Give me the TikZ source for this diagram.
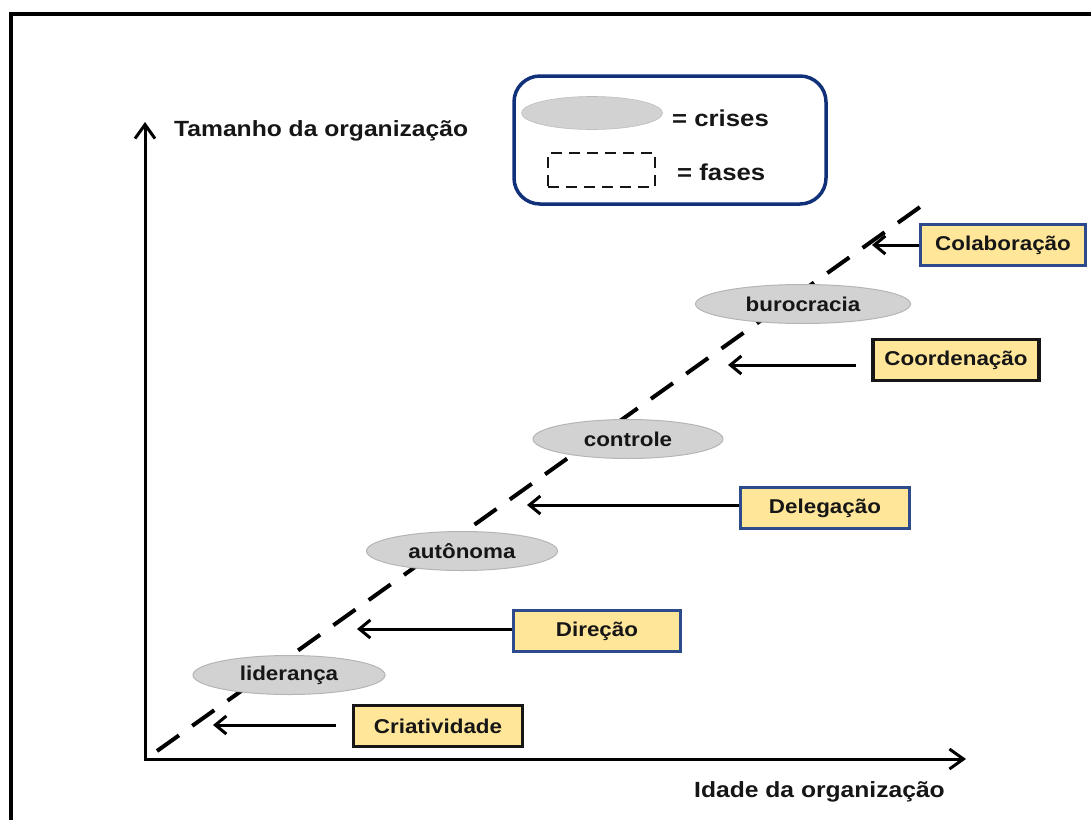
\documentclass[tikz,border=0pt]{standalone}
\usepackage{fontspec}
\setmainfont[FakeStretch=1.12]{Liberation Sans}
\usetikzlibrary{arrows.meta,shapes.geometric}

\definecolor{ink}{HTML}{161616}
\definecolor{navy}{HTML}{10307A}
\definecolor{boxblue}{HTML}{2C4A8C}
\definecolor{phasefill}{HTML}{FFE699}
\definecolor{crisisfill}{HTML}{D2D2D2}
\definecolor{crisisedge}{HTML}{B5B5B5}

\begin{document}
\begin{tikzpicture}[x=1pt,y=-1pt,
  crisis/.style={ellipse, fill=crisisfill, draw=crisisedge, line width=1pt,
    minimum width=#1, minimum height=39pt, inner sep=0pt,
    font=\fontsize{20}{24}\selectfont\bfseries, text=ink},
  phase/.style={rectangle, fill=phasefill, draw=#1, line width=3.5pt,
    minimum height=41pt, inner sep=0pt,
    font=\fontsize{20}{24}\selectfont\bfseries, text=ink},
  pointer/.style={line width=3pt, {Straight Barb[length=11pt,width=18pt]}-},
  axis/.style={line width=3pt, line join=miter,
    {Straight Barb[length=14pt,width=20pt]}-{Straight Barb[length=14pt,width=20pt]}},
  axislabel/.style={anchor=west, inner sep=0pt, font=\fontsize{22}{26}\selectfont\bfseries, text=ink},
  legendtext/.style={anchor=west, inner sep=0pt, font=\fontsize{23}{27}\selectfont\bfseries, text=ink}
]
\useasboundingbox (0,0) rectangle (1091,819);
\clip (0,0) rectangle (1091,819);
\fill[white] (0,0) rectangle (1091,819);

% outer frame (runs off the page on the right and at the bottom)
\draw[line width=4pt, line join=miter] (11,840) -- (11,14) -- (1110,14);

% axes
\coordinate (origin) at (145,759);
\coordinate (ytip) at (145,122);
\coordinate (xtip) at (966,759);
\draw[axis] (ytip) -- (origin) -- (xtip);
\node[axislabel] (ylabel) at (174,131) {Tamanho da organização};
\node[axislabel] (xlabel) at (694,792) {Idade da organização};

% legend
\node[draw=navy, line width=3.5pt, rounded corners=26pt, minimum width=312pt,
  minimum height=128pt, inner sep=0pt] (legend) at (670,140) {};
\node[ellipse, fill=crisisfill, draw=crisisfill!90!black, line width=0.6pt,
  minimum width=141pt, minimum height=33pt, inner sep=0pt] (legcrisis) at (592,113) {};
\node[legendtext] (legcrisistext) at (672,118) {= crises};
\node[draw=ink, line width=2pt, dash pattern=on 11pt off 7pt, minimum width=107pt,
  minimum height=34pt, inner sep=0pt] (legphase) at (601,170) {};
\node[legendtext] (legphasetext) at (677,172) {= fases};

% growth line through the phases: a dash at each end
\coordinate (gstart) at (157,751);
\coordinate (gend) at (920,207);
\draw[line width=4pt, dash pattern=on 27pt off 16.33pt] (gstart) -- (gend);

% crises
\node[crisis=192pt] (lid) at (289,675) {lideran\c{c}a};
\node[crisis=191pt] (aut) at (462,551) {autônoma};
\node[crisis=190pt] (con) at (628,439) {controle};
\node[crisis=215pt] (bur) at (803,304) {burocracia};

% phases
\node[phase=ink, minimum width=169pt] (cri) at (438,726) {Criatividade};
\node[phase=boxblue, minimum width=167pt] (dir) at (597,631) {Direção};
\node[phase=boxblue, minimum width=169pt] (del) at (825,508) {Delegação};
\node[phase=ink, minimum width=166pt] (coo) at (956,360) {Coordenação};
\node[phase=boxblue, minimum width=165pt] (col) at (1003,245) {Colaboração};

% pointers from each phase to the growth line
\coordinate (tcri) at (213,725);
\coordinate (tdir) at (357,629);
\coordinate (tdel) at (527,505);
\coordinate (tcoo) at (728,365);
\coordinate (tcol) at (872,245);
\draw[pointer] (tcri) -- ([xshift=-16pt]tcri -| cri.west);
\draw[pointer] (tdir) -- (tdir -| dir.west);
\draw[pointer] (tdel) -- (tdel -| del.west);
\draw[pointer] (tcoo) -- ([xshift=-15pt]tcoo -| coo.west);
\draw[pointer] (tcol) -- (tcol -| col.west);
\end{tikzpicture}
\end{document}
